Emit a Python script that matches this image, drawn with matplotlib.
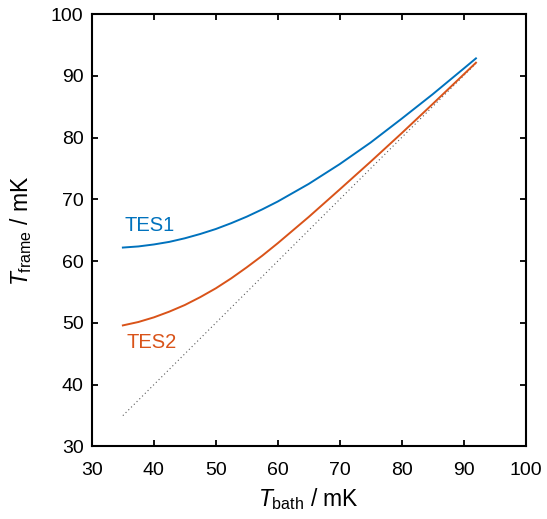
import matplotlib
matplotlib.use("Agg")
import matplotlib.pyplot as plt

plt.rcParams['font.family'] = ['Liberation Sans', 'DejaVu Sans']
plt.rcParams['mathtext.fontset'] = 'custom'
plt.rcParams['mathtext.rm'] = 'Liberation Sans'
plt.rcParams['mathtext.it'] = 'Liberation Sans:italic'

# bath temperature (mK)
t_bath = [35, 37.5, 40, 42.5, 45, 47.5, 50, 52.5, 55, 57.5, 60,
          65, 70, 75, 80, 85, 90, 92]
# frame temperature (mK)
tes1 = [62.2, 62.38, 62.7, 63.12, 63.7, 64.4, 65.2, 66.15, 67.2, 68.38, 69.65,
        72.5, 75.7, 79.2, 83.05, 87.0, 91.15, 92.82]
tes2 = [49.6, 50.15, 50.9, 51.83, 52.9, 54.18, 55.6, 57.22, 59.0, 60.88, 62.9,
        67.15, 71.6, 76.1, 80.7, 85.42, 90.2, 92.12]
ref_line = [35, 92]

blue = '#0072BD'
orange = '#D95319'

fig = plt.figure(figsize=(5.47, 5.19), dpi=100)
ax = fig.add_axes([0.168, 0.1397, 0.7927, 0.8333])

ax.plot(ref_line, ref_line, linestyle=(0, (1, 2.5)), color='0.35', lw=0.8)
ax.plot(t_bath, tes1, color=blue, lw=1.4)
ax.plot(t_bath, tes2, color=orange, lw=1.4)

ax.text(35.3, 65.7, 'TES1', color=blue, fontsize=14.5, va='center', ha='left')
ax.text(35.6, 46.9, 'TES2', color=orange, fontsize=14.5, va='center', ha='left')

ax.set_xlim(30, 100)
ax.set_ylim(30, 100)
ax.set_xticks(range(30, 101, 10))
ax.set_yticks(range(30, 101, 10))
ax.tick_params(direction='in', top=True, right=True, length=4, width=1.3,
               labelsize=14)
ax.tick_params(axis='x', pad=11)
ax.tick_params(axis='y', pad=6)
for s in ax.spines.values():
    s.set_linewidth(1.5)

ax.set_xlabel(r'$T_{\mathrm{bath}}$ / mK', fontsize=16.5, labelpad=5)
ax.set_ylabel(r'$T_{\mathrm{frame}}$ / mK', fontsize=16.5, labelpad=12)

fig.savefig('out.png', dpi=100)
